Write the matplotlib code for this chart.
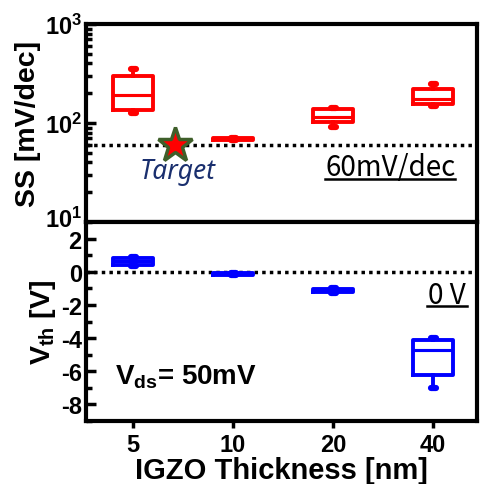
import matplotlib
matplotlib.use("Agg")
import matplotlib.pyplot as plt
import matplotlib.transforms as mtransforms
from matplotlib.ticker import LogLocator, NullFormatter, MultipleLocator

plt.rcParams['font.family'] = ['Liberation Sans', 'DejaVu Sans']
plt.rcParams['font.weight'] = 'bold'
plt.rcParams['mathtext.fontset'] = 'custom'
plt.rcParams['mathtext.rm'] = 'Liberation Sans:bold'
plt.rcParams['mathtext.it'] = 'Liberation Sans:bold'
plt.rcParams['mathtext.bf'] = 'Liberation Sans:bold'
plt.rcParams['mathtext.default'] = 'rm'
plt.rcParams['axes.unicode_minus'] = False

# ---------------- data ----------------
thickness = ['5', '10', '20', '40']

ss_whislo = [127, 67, 92, 149]
ss_q1 = [136, 68, 103, 157]
ss_med = [193, 69, 115, 175]
ss_q3 = [300, 70, 137, 220]
ss_whishi = [354, 71, 142, 245]

vth_whislo = [0.35, -0.22, -1.3, -7.0]
vth_q1 = [0.4, -0.2, -1.25, -6.2]
vth_med = [0.65, -0.15, -1.15, -4.7]
vth_q3 = [0.85, -0.1, -1.05, -4.1]
vth_whishi = [0.9, -0.08, -1.0, -4.0]

target_ss = 60
ref_vth = 0

# ---------------- figure ----------------
fig = plt.figure(figsize=(4.8, 4.85), dpi=100)
L, R = 86 / 480, 477 / 480
ax1 = fig.add_axes([L, 1 - 223 / 485, R - L, 198 / 485])
ax2 = fig.add_axes([L, 1 - 422 / 485, R - L, 199 / 485])

pos = list(range(len(thickness)))


def make_stats(lo, q1, med, q3, hi):
    return [dict(whislo=a, q1=b, med=c, q3=d, whishi=e, fliers=[])
            for a, b, c, d, e in zip(lo, q1, med, q3, hi)]


def draw_box(ax, stats, color):
    lw = 2.8
    ax.bxp(stats, positions=pos, widths=0.4, showfliers=False,
           capwidths=0.05,
           boxprops=dict(color=color, linewidth=lw, solid_joinstyle='round'),
           medianprops=dict(color=color, linewidth=lw * 0.8),
           whiskerprops=dict(color=color, linewidth=lw),
           capprops=dict(color=color, linewidth=lw * 1.6, solid_capstyle='round'))


draw_box(ax1, make_stats(ss_whislo, ss_q1, ss_med, ss_q3, ss_whishi), '#ff0000')
draw_box(ax2, make_stats(vth_whislo, vth_q1, vth_med, vth_q3, vth_whishi), '#0000ff')

xlim = (-0.47, 3.44)
for ax in (ax1, ax2):
    ax.set_xlim(*xlim)
    for s in ax.spines.values():
        s.set_linewidth(3)

# top axes
ax1.set_yscale('log')
ax1.set_ylim(10, 1000)
ax1.axhline(target_ss, color='black', linestyle=(0, (1, 1.2)), linewidth=2.5, zorder=1)
ax1.yaxis.set_major_locator(LogLocator(base=10, numticks=5))
ax1.yaxis.set_minor_locator(LogLocator(base=10, subs=range(2, 10), numticks=20))
ax1.yaxis.set_minor_formatter(NullFormatter())
ax1.tick_params(axis='y', which='major', direction='in', length=7, width=2.5,
                labelsize=17, pad=3)
ax1.tick_params(axis='y', which='minor', direction='in', length=4, width=2.5)
ax1.tick_params(axis='x', bottom=False, labelbottom=False)
ax1.set_ylabel('SS [mV/dec]', fontsize=20.5, fontweight='bold', labelpad=3)

ax1.plot([0.42], [target_ss], marker='*', markersize=26, markerfacecolor='#ff0000',
         markeredgecolor='#3f5f2a', markeredgewidth=2.5, zorder=5)
ax1.text(0.45, 33, 'Target', fontsize=19, style='italic', fontweight='normal',
         family=['Noto Sans', 'DejaVu Sans'], color='#1a2f6e', ha='center', va='center')
ax1.text(0.778, 0.235, '60mV/dec', transform=ax1.transAxes, fontsize=20,
         fontweight='normal', family=['Noto Sans CJK JP', 'DejaVu Sans'],
         ha='center', va='baseline')
ax1.plot([0.611, 0.944], [0.215, 0.215], transform=ax1.transAxes, color='black',
         linewidth=1.8, clip_on=False)

# bottom axes
ax2.set_ylim(-9, 3)
ax2.axhline(ref_vth, color='black', linestyle=(0, (1, 1.2)), linewidth=2.5, zorder=1)
ax2.yaxis.set_major_locator(MultipleLocator(2))
ax2.yaxis.set_minor_locator(MultipleLocator(1))
ax2.set_yticks([2, 0, -2, -4, -6, -8])
ax2.tick_params(axis='y', which='major', direction='in', length=7, width=2.5,
                labelsize=17, pad=3)
ax2.tick_params(axis='y', which='minor', direction='in', length=4, width=2.5)
ax2.set_xticks(pos)
ax2.set_xticklabels(thickness)
ax2.tick_params(axis='x', direction='out', length=5, width=2.5, labelsize=17, pad=4)
ax2.set_ylabel(r'V$_{\mathregular{th}}$ [V]', fontsize=20.5, fontweight='bold', labelpad=2)
ax2.set_xlabel('IGZO Thickness [nm]', fontsize=21, fontweight='bold', labelpad=0)

ax2.text(0.074, 0.226, r'V$_{\mathregular{ds}}$= 50mV', transform=ax2.transAxes,
         fontsize=20, fontweight='bold', ha='left', va='center')
ax2.text(0.923, 0.595, '0 V', transform=ax2.transAxes, fontsize=20,
         fontweight='normal', family=['Noto Sans CJK JP', 'DejaVu Sans'],
         ha='center', va='baseline')
ax2.plot([0.872, 0.974], [0.578, 0.578], transform=ax2.transAxes, color='black',
         linewidth=1.8, clip_on=False)

# nudge the lowest log label up a little so it doesn't collide with "2"
fig.canvas.draw()
shift = mtransforms.ScaledTranslation(0, 4 / 72, fig.dpi_scale_trans)
for lab in ax1.get_yticklabels():
    if lab.get_position()[1] == 10:
        lab.set_transform(lab.get_transform() + shift)

fig.savefig('out.png', dpi=100)
